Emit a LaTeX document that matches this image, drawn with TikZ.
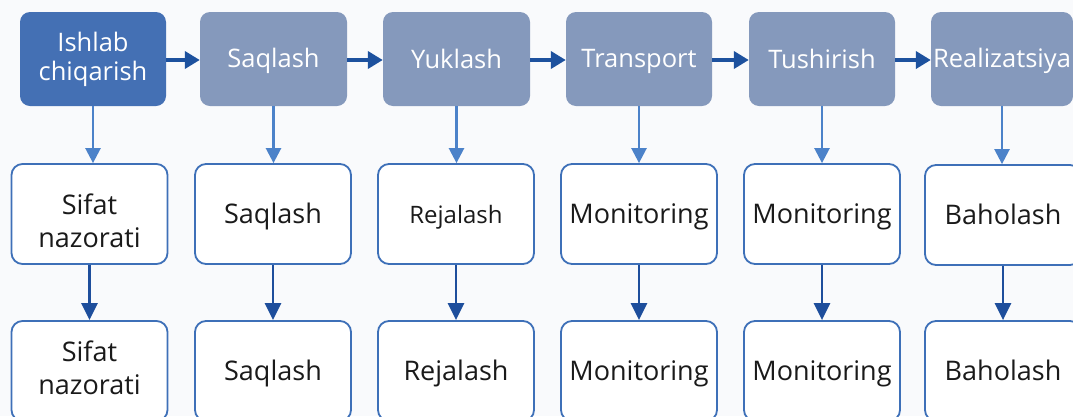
\documentclass[tikz,border=0pt]{standalone}
\usepackage{fontspec}
\setmainfont{Open Sans}
\usetikzlibrary{arrows.meta}
\definecolor{bgc}{HTML}{F9FAFC}
\definecolor{darkbox}{HTML}{4470B4}
\definecolor{greybox}{HTML}{8599BC}
\definecolor{edgeblue}{HTML}{3E70B8}
\definecolor{harrow}{HTML}{1D519E}
\definecolor{varrow}{HTML}{4C82C9}
\definecolor{darrow}{HTML}{1E4E9C}
\definecolor{txt}{HTML}{1A1A1A}
\newcommand\myTopA{\rule{0pt}{23.5pt}}
\newcommand\myTopB{\rule[-5.5pt]{0pt}{0pt}}
\newcommand\mySubA{\rule{0pt}{26pt}}
\newcommand\mySubB{\rule[-7pt]{0pt}{0pt}}
\tikzset{
  topbox/.style={rounded corners=10pt, fill=greybox, text=white, minimum height=94pt,
    align=center, inner sep=0pt, font=\fontsize{25.5}{29}\selectfont,
    execute at begin node=\myTopA, execute at end node=\myTopB},
  firstbox/.style={topbox, fill=darkbox},
  subbox/.style={rounded corners=11pt, draw=edgeblue, line width=1.8pt, fill=white,
    text=txt, minimum width=156pt, minimum height=100pt, align=center, inner sep=0pt,
    font=\fontsize{27}{33}\selectfont,
    execute at begin node=\mySubA, execute at end node=\mySubB},
  subtext/.style={text=txt, align=center, inner sep=0pt,
    font=\fontsize{27}{33}\selectfont,
    execute at begin node=\mySubA, execute at end node=\mySubB},
  harr/.style={draw=harrow, line width=3.8pt, -{Triangle[length=15pt,width=17pt]}},
  varr/.style={draw=varrow, line width=2.5pt, -{Triangle[length=15pt,width=15pt]}},
  darr/.style={draw=darrow, line width=2.5pt, -{Triangle[length=17pt,width=16pt]}},
}
\begin{document}
\begin{tikzpicture}[x=1pt,y=-1pt]
\clip (0,0) rectangle (1073,416);
\fill[bgc] (0,0) rectangle (1073,416);
% top row
\node[firstbox, minimum width=146pt] (t1) at (93,59) {Ishlab\\chiqarish};
\node[topbox, minimum width=147pt] (t2) at (273.5,59) {Saqlash};
\node[topbox, minimum width=147pt] (t3) at (456.5,59) {Yuklash};
\node[topbox, minimum width=146pt] (t4) at (639,59) {Transport};
\node[topbox, minimum width=146pt] (t5) at (822,59) {Tushirish};
\node[topbox, minimum width=142pt] (t6) at (1002,59) {Realizatsiya};
% middle row
\node[subbox] (m1) at (89.5,214) {};
\node[subtext] (m1t) at (89.5,224.5) {Sifat\\nazorati};
\node[subbox] (m2) at (273,214) {Saqlash};
\node[subbox, font=\fontsize{24}{33}\selectfont] (m3) at (456,214) {Rejalash};
\node[subbox] (m4) at (639,214) {Monitoring};
\node[subbox] (m5) at (822,214) {Monitoring};
\node[subbox] (m6) at (1003,215) {Baholash};
% bottom row
\node[subbox] (b1) at (89.5,371) {Sifat\\nazorati};
\node[subbox] (b2) at (273,371) {Saqlash};
\node[subbox] (b3) at (456,371) {Rejalash};
\node[subbox] (b4) at (639,371) {Monitoring};
\node[subbox] (b5) at (822,371) {Monitoring};
\node[subbox] (b6) at (1003,371) {Baholash};
% horizontal arrows
\draw[harr] (t1.east |- 0,60) -- (t2.west |- 0,60);
\draw[harr] (t2.east |- 0,60) -- (t3.west |- 0,60);
\draw[harr] (t3.east |- 0,60) -- (t4.west |- 0,60);
\draw[harr] (t4.east |- 0,60) -- (t5.west |- 0,60);
\draw[harr] (t5.east |- 0,60) -- (t6.west |- 0,60);
% vertical arrows
\foreach \i in {1,...,6}{
  \draw[varr] (t\i.south) -- (t\i.south |- m\i.north);
  \draw[darr] (m\i.south) -- (m\i.south |- b\i.north);
}
\end{tikzpicture}
\end{document}
